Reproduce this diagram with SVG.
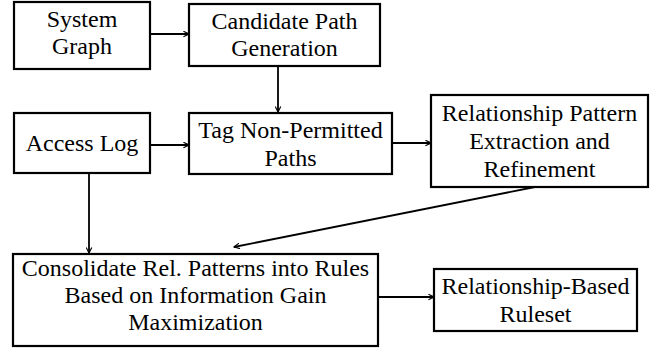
<svg xmlns="http://www.w3.org/2000/svg" width="657" height="350" viewBox="0 0 657 350">
  <defs>
    <style>
      .box { fill: #fff; stroke: #000; stroke-width: 2.2; }
      .lbl { font-family: "Liberation Serif", "DejaVu Serif", serif; font-size: 24px; fill: #000; text-anchor: middle; }
      .edge { fill: none; stroke: #000; stroke-width: 1.8; marker-end: url(#arrow); }
    </style>
    <marker id="arrow" viewBox="0 0 10 10" refX="9" refY="5" markerWidth="7" markerHeight="7" markerUnits="userSpaceOnUse" orient="auto">
      <path d="M1,1 L9,5 L1,9" fill="none" stroke="#000" stroke-width="1.6"/>
    </marker>
  </defs>
  <rect width="657" height="350" fill="#fff"/>

  <g id="connectors">
    <line class="edge" x1="150" y1="34" x2="189" y2="34"/>
    <line class="edge" x1="278" y1="66" x2="278" y2="112"/>
    <line class="edge" x1="150" y1="145" x2="189" y2="145"/>
    <line class="edge" x1="392" y1="143" x2="431" y2="143"/>
    <line class="edge" x1="89" y1="174" x2="89" y2="253"/>
    <line class="edge" x1="535" y1="187" x2="234" y2="247"/>
    <line class="edge" x1="378" y1="297" x2="434" y2="297"/>
  </g>

  <g id="system-graph">
    <rect class="box" x="14" y="2" width="136" height="67"/>
    <text class="lbl" x="82" y="27">System</text>
    <text class="lbl" x="82" y="54">Graph</text>
  </g>

  <g id="candidate-path-generation">
    <rect class="box" x="189" y="4" width="191" height="62"/>
    <text class="lbl" x="284.5" y="29">Candidate Path</text>
    <text class="lbl" x="284.5" y="56">Generation</text>
  </g>

  <g id="access-log">
    <rect class="box" x="14" y="113" width="136" height="60"/>
    <text class="lbl" x="82" y="151">Access Log</text>
  </g>

  <g id="tag-non-permitted-paths">
    <rect class="box" x="189" y="113" width="203" height="61"/>
    <text class="lbl" x="290.5" y="138">Tag Non-Permitted</text>
    <text class="lbl" x="290.5" y="166">Paths</text>
  </g>

  <g id="relationship-pattern-extraction">
    <rect class="box" x="431" y="95" width="217" height="92"/>
    <text class="lbl" x="539.5" y="121">Relationship Pattern</text>
    <text class="lbl" x="539.5" y="149">Extraction and</text>
    <text class="lbl" x="539.5" y="177">Refinement</text>
  </g>

  <g id="consolidate-rules">
    <rect class="box" x="13" y="254" width="365" height="92"/>
    <text class="lbl" x="195.5" y="276">Consolidate Rel. Patterns into Rules</text>
    <text class="lbl" x="195.5" y="303">Based on Information Gain</text>
    <text class="lbl" x="195.5" y="330">Maximization</text>
  </g>

  <g id="relationship-based-ruleset">
    <rect class="box" x="434" y="269" width="203" height="62"/>
    <text class="lbl" x="535.5" y="294">Relationship-Based</text>
    <text class="lbl" x="535.5" y="322">Ruleset</text>
  </g>
</svg>
